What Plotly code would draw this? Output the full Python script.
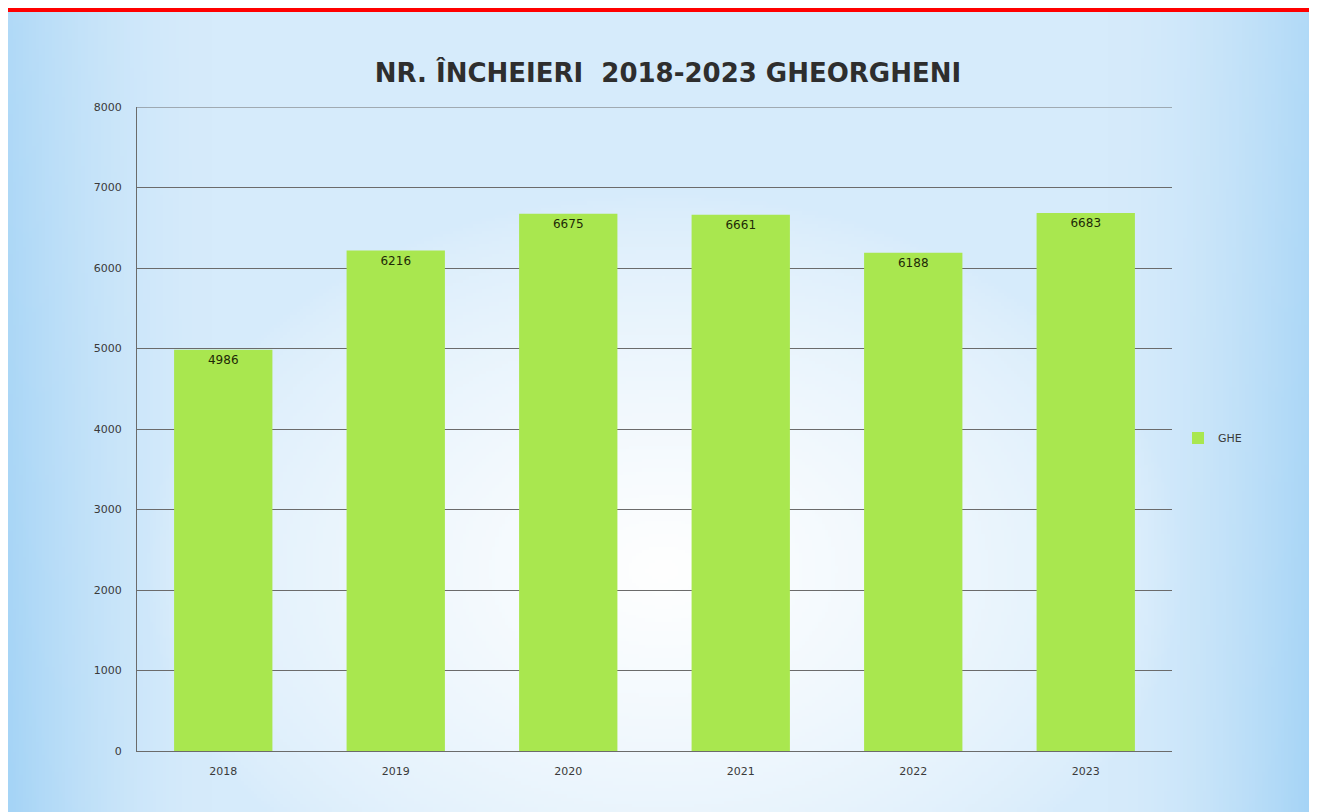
import base64, struct, zlib
import numpy as np
import plotly.graph_objects as go

# ---- data ----
years = ["2018", "2019", "2020", "2021", "2022", "2023"]
values = [4986, 6216, 6675, 6661, 6188, 6683]
series_name = "GHE"
title_text = "NR. ÎNCHEIERI  2018-2023 GHEORGHENI"

OFF = 8  # page body margin
W, H = 1317 - OFF, 812 - OFF
ML = 137 - OFF
MR = W - (1172 - OFF)
MT = 107 - OFF
MB = H - (751 - OFF)
PW, PH = W - ML - MR, H - MT - MB


def make_png(w, h, full_w, full_h):
    ys, xs = np.mgrid[0:h, 0:w]
    X = xs / (w - 1) * full_w
    Y = ys / (h - 1) * full_h
    base = np.array([214, 235, 251], float)
    white = np.array([255, 255, 255], float)
    edge = np.array([165, 212, 246], float)
    # central white glow
    e = np.sqrt(((X - 655) / 520) ** 2 + ((Y - 560) / 380) ** 2)
    wc = np.clip(1 - e, 0, 1) ** 0.7
    # side blue edges
    ex = np.minimum(X, full_w - X)
    ec = np.clip(1 - ex / 200, 0, 1) ** 1.6
    ec = ec * (0.75 + 0.25 * (Y / full_h))
    col = base[None, None, :] * np.ones((h, w, 1))
    col = col + (white - col) * wc[..., None]
    col = col + (edge - col) * ec[..., None]
    img = np.clip(col, 0, 255).astype(np.uint8)
    raw = b"".join(b"\x00" + img[r].tobytes() for r in range(h))

    def chunk(tag, data):
        c = struct.pack(">I", len(data)) + tag + data
        return c + struct.pack(">I", zlib.crc32(tag + data) & 0xffffffff)

    png = b"\x89PNG\r\n\x1a\n"
    png += chunk(b"IHDR", struct.pack(">IIBBBBB", w, h, 8, 2, 0, 0, 0))
    png += chunk(b"IDAT", zlib.compress(raw, 9))
    png += chunk(b"IEND", b"")
    return "data:image/png;base64," + base64.b64encode(png).decode()


# screen coords of background image
BX0, BX1, BY0, BY1 = 8, 1312, 11, 812
bg = make_png(400, 246, BX1 - BX0, BY1 - BY0)


def px_x(p):
    return (p - OFF - ML) / PW


def px_y(p):
    return (H - MB - (p - OFF)) / PH


fig = go.Figure()
fig.add_trace(go.Bar(
    x=years, y=values, name=series_name,
    marker=dict(color="#a9e74f", line=dict(width=0)),
    text=[str(v) for v in values], textposition="inside",
    insidetextanchor="end", textangle=0,
    textfont=dict(family="DejaVu Sans", size=12, color="#1e2a06"),
    showlegend=True,
))

fig.update_layout(
    width=W, height=H,
    margin=dict(l=ML, r=MR, t=MT, b=MB, autoexpand=False),
    paper_bgcolor="white",
    plot_bgcolor="rgba(0,0,0,0)",
    bargap=0.43,
    title=dict(text="<b>" + title_text + "</b>", x=px_x(668), xref="paper",
               xanchor="center", y=1 - (73 - OFF) / H, yanchor="middle",
               font=dict(family="DejaVu Sans", size=26, color="#2e2e2e")),
    xaxis=dict(showgrid=False, showline=True, linecolor="#6b6b6b", linewidth=1,
               ticks="", ticklabelstandoff=10,
               tickfont=dict(family="DejaVu Sans", size=11, color="#3a3a3a"),
               fixedrange=True),
    yaxis=dict(range=[0, 8000], tickvals=list(range(0, 8001, 1000)),
               showgrid=True, gridcolor="#6b6b6b", gridwidth=1,
               showline=True, linecolor="#6b6b6b", linewidth=1,
               zeroline=False, ticks="", ticklabelstandoff=12,
               tickfont=dict(family="DejaVu Sans", size=11, color="#3a3a3a")),
    legend=dict(x=px_x(1178), xanchor="left", y=px_y(438), yanchor="middle",
                bgcolor="rgba(0,0,0,0)",
                font=dict(family="DejaVu Sans", size=11, color="#3a3a3a"),
                itemwidth=30),
    images=[dict(source=bg, xref="paper", yref="paper",
                 x=px_x(BX0), y=px_y(BY0), sizex=(BX1 - BX0) / PW,
                 sizey=(BY1 - BY0) / PH,
                 xanchor="left", yanchor="top", sizing="stretch", layer="below")],
    shapes=[
        dict(type="rect", xref="paper", yref="paper",
             x0=px_x(8), x1=px_x(1312), y0=px_y(12), y1=px_y(8),
             fillcolor="#ff0000", line=dict(width=0), layer="above"),
        dict(type="line", xref="paper", yref="y", x0=0, x1=1, y0=8000, y1=8000,
             line=dict(color="#6b6b6b", width=1), layer="below"),
    ],
)

fig.write_html("out.html")
